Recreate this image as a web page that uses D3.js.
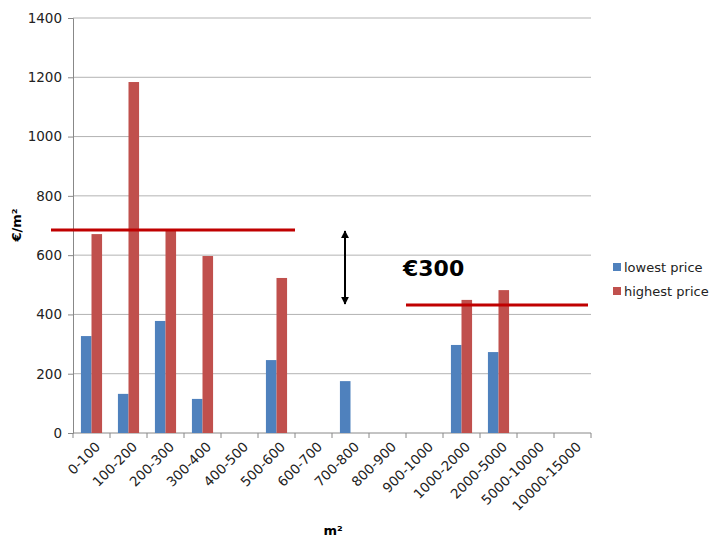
<!DOCTYPE html>
<html>
<head>
<meta charset="utf-8">
<script src="https://cdn.jsdelivr.net/npm/d3@7"></script>
<style>
  body { margin: 0; background: #fff; }
  text { font-family: "DejaVu Sans", Verdana, sans-serif; fill: #222; }
</style>
</head>
<body>
<script>
var categories = ['0-100', '100-200', '200-300', '300-400', '400-500', '500-600', '600-700',
    '700-800', '800-900', '900-1000', '1000-2000', '2000-5000', '5000-10000', '10000-15000'];
var lowest = [327, 132, 378, 115, null, 246, null, 175, null, null, 297, 273, null, null];
var highest = [671, 1184, 688, 597, null, 523, null, null, null, null, 449, 482, null, null];
var yTicks = [0, 200, 400, 600, 800, 1000, 1200, 1400];
var seriesNames = ['lowest price', 'highest price'];
var seriesColors = ['#4F81BD', '#C0504D'];
// annotation levels
var levelLeft = 685, levelRight = 432, diffLabel = '€300';

var width = 712, height = 541;
var pLeft = 73, pRight = 591, pTop = 18, pBottom = 433;

var svg = d3.select('body').append('svg')
    .attr('width', width)
    .attr('height', height);

var x = d3.scaleBand().domain(categories).range([pLeft, pRight]);
var y = d3.scaleLinear().domain([0, 1400]).range([pBottom, pTop]);

// gridlines
svg.append('g')
    .selectAll('line')
    .data(yTicks.slice(1))
    .enter().append('line')
    .attr('x1', pLeft).attr('x2', pRight)
    .attr('y1', d => y(d)).attr('y2', d => y(d))
    .attr('stroke', '#b3b3b3').attr('stroke-width', 1);

// y axis
var axisL = d3.axisLeft(y).tickValues(yTicks).tickFormat(d3.format('d')).tickSize(5).tickPadding(6);
var gy = svg.append('g')
    .attr('transform', 'translate(' + pLeft + ',0)')
    .call(axisL);
gy.select('.domain').attr('stroke', '#888');
gy.selectAll('.tick line').attr('stroke', '#888');
gy.selectAll('.tick text')
    .style('font-size', '13.5px')
    .style('font-family', '"DejaVu Sans", Verdana, sans-serif')
    .attr('fill', '#222');

// x axis: ticks at category boundaries
var gx = svg.append('g').attr('transform', 'translate(0,' + pBottom + ')');
gx.append('line').attr('x1', pLeft).attr('x2', pRight).attr('stroke', '#888');
gx.selectAll('.bound')
    .data(d3.range(categories.length + 1))
    .enter().append('line')
    .attr('x1', i => pLeft + i * x.step()).attr('x2', i => pLeft + i * x.step())
    .attr('y1', 0).attr('y2', 5)
    .attr('stroke', '#888');
gx.selectAll('.lbl')
    .data(categories)
    .enter().append('text')
    .attr('transform', d => 'translate(' + (x(d) + x.bandwidth() / 2 + 3) + ',8) rotate(-45)')
    .attr('text-anchor', 'end')
    .attr('dy', '0.7em')
    .style('font-size', '13.5px')
    .text(d => d);

// bars
var barW = x.bandwidth() / 3.5;
[lowest, highest].forEach(function (vals, s) {
    svg.append('g')
        .selectAll('rect')
        .data(vals.map((v, i) => ({ c: categories[i], v: v })).filter(d => d.v != null))
        .enter().append('rect')
        .attr('x', d => x(d.c) + barW * 0.75 + s * barW)
        .attr('width', barW)
        .attr('y', d => y(d.v))
        .attr('height', d => pBottom - y(d.v))
        .attr('fill', seriesColors[s]);
});

// annotation lines
svg.append('line')
    .attr('x1', pLeft - 22).attr('x2', x('500-600') + x.bandwidth())
    .attr('y1', y(levelLeft)).attr('y2', y(levelLeft))
    .attr('stroke', '#C00000').attr('stroke-width', 3);
svg.append('line')
    .attr('x1', x('900-1000')).attr('x2', pRight - 3)
    .attr('y1', y(levelRight)).attr('y2', y(levelRight))
    .attr('stroke', '#C00000').attr('stroke-width', 3);

// double arrow
svg.append('defs').append('marker')
    .attr('id', 'ah').attr('viewBox', '0 0 10 10')
    .attr('refX', 9).attr('refY', 5)
    .attr('markerWidth', 4).attr('markerHeight', 4)
    .attr('orient', 'auto-start-reverse')
    .append('path').attr('d', 'M0,0 L10,5 L0,10 z').attr('fill', '#000');
var ax = x('700-800') + 13;
svg.append('line')
    .attr('x1', ax).attr('x2', ax)
    .attr('y1', y(levelLeft) + 1).attr('y2', y(levelRight) - 1)
    .attr('stroke', '#000').attr('stroke-width', 2)
    .attr('marker-start', 'url(#ah)').attr('marker-end', 'url(#ah)');

svg.append('text')
    .attr('x', 403).attr('y', 276)
    .style('font-size', '22px').style('font-weight', 'bold')
    .style('fill', '#000')
    .text(diffLabel);

// legend
var lg = svg.append('g').attr('transform', 'translate(613,267)');
seriesNames.forEach(function (n, i) {
    lg.append('rect').attr('x', 0).attr('y', i * 24 - 4).attr('width', 8).attr('height', 8)
        .attr('fill', seriesColors[i]);
    lg.append('text').attr('x', 11).attr('y', i * 24).attr('dy', '0.35em')
        .style('font-size', '13px').text(n);
});

// axis titles
svg.append('text')
    .attr('transform', 'translate(21,225) rotate(-90)')
    .attr('text-anchor', 'middle')
    .style('font-size', '13px').style('font-weight', 'bold').style('fill', '#000')
    .text('€/m²');
svg.append('text')
    .attr('x', 333).attr('y', 535)
    .attr('text-anchor', 'middle')
    .style('font-size', '13px').style('font-weight', 'bold').style('fill', '#000')
    .text('m²');
</script>
</body>
</html>
